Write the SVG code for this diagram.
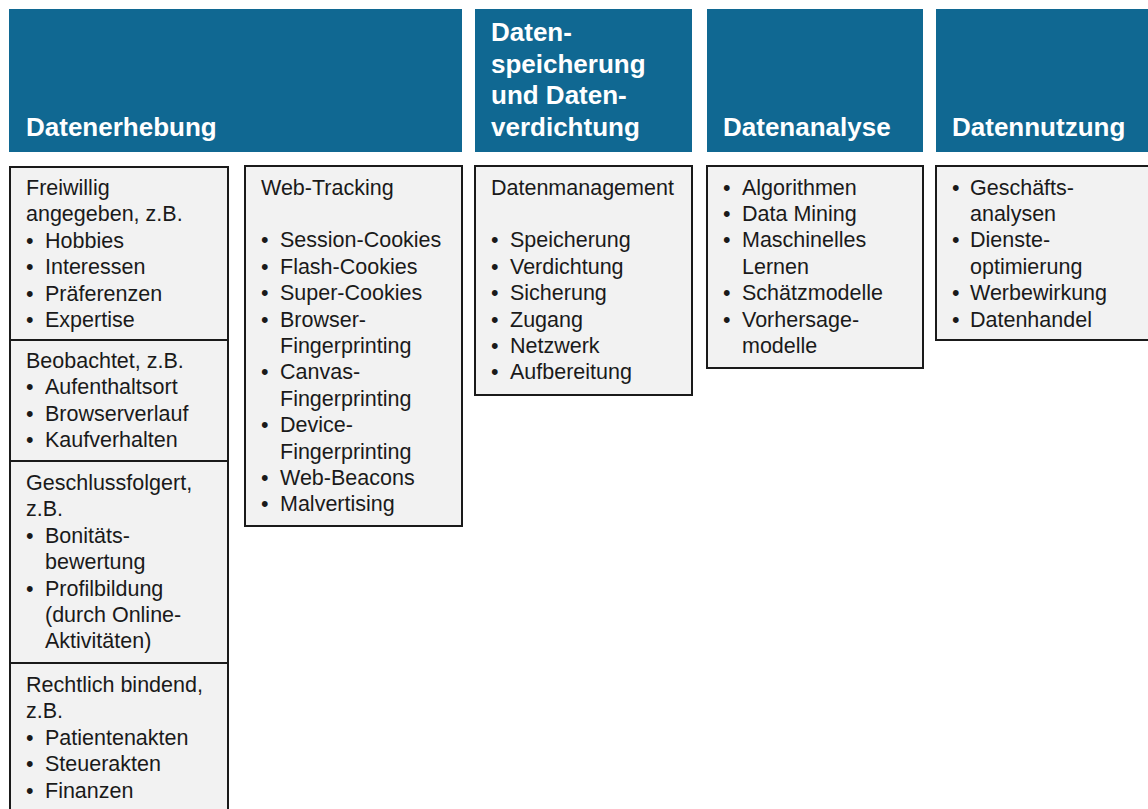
<svg xmlns="http://www.w3.org/2000/svg" width="1148" height="809" viewBox="0 0 1148 809">
<style>
.hdr{fill:#106892}
.hd{font-family:"Liberation Sans",Arial,sans-serif;font-size:26px;font-weight:bold;fill:#ffffff}
.box{fill:#f2f2f2;stroke:#1a1a1a;stroke-width:2}
.t{font-family:"Liberation Sans",Arial,sans-serif;font-size:21.5px;fill:#1a1a1a}
</style>
<rect width="1148" height="809" fill="#ffffff"/>
<g id="header-erhebung">
<rect class="hdr" x="9" y="9" width="453" height="143"/>
<text class="hd" x="26" y="136">Datenerhebung</text>
</g>
<g id="header-speicherung">
<rect class="hdr" x="475" y="9" width="217" height="143"/>
<text class="hd" x="491" y="41">Daten-</text>
<text class="hd" x="491" y="72.5">speicherung</text>
<text class="hd" x="491" y="104">und Daten-</text>
<text class="hd" x="491" y="135.5">verdichtung</text>
</g>
<g id="header-analyse">
<rect class="hdr" x="707" y="9" width="216" height="143"/>
<text class="hd" x="723" y="136">Datenanalyse</text>
</g>
<g id="header-nutzung">
<rect class="hdr" x="936" y="9" width="220" height="143"/>
<text class="hd" x="952" y="136">Datennutzung</text>
</g>
<g id="box-freiwillig">
<rect class="box" x="10" y="167" width="218" height="173"/>
<text class="t" x="26" y="195">Freiwillig</text>
<text class="t" x="26" y="221.4">angegeben, z.B.</text>
<text class="t" x="26" y="247.8">•</text><text class="t" x="45" y="247.8">Hobbies</text>
<text class="t" x="26" y="274.2">•</text><text class="t" x="45" y="274.2">Interessen</text>
<text class="t" x="26" y="300.6">•</text><text class="t" x="45" y="300.6">Präferenzen</text>
<text class="t" x="26" y="327">•</text><text class="t" x="45" y="327">Expertise</text>
</g>
<g id="box-beobachtet">
<rect class="box" x="10" y="340" width="218" height="121"/>
<text class="t" x="26" y="368">Beobachtet, z.B.</text>
<text class="t" x="26" y="394.4">•</text><text class="t" x="45" y="394.4">Aufenthaltsort</text>
<text class="t" x="26" y="420.8">•</text><text class="t" x="45" y="420.8">Browserverlauf</text>
<text class="t" x="26" y="447.2">•</text><text class="t" x="45" y="447.2">Kaufverhalten</text>
</g>
<g id="box-geschlussfolgert">
<rect class="box" x="10" y="461" width="218" height="202"/>
<text class="t" x="26" y="490">Geschlussfolgert,</text>
<text class="t" x="26" y="516.4">z.B.</text>
<text class="t" x="26" y="542.8">•</text><text class="t" x="45" y="542.8">Bonitäts-</text>
<text class="t" x="45" y="569.2">bewertung</text>
<text class="t" x="26" y="595.6">•</text><text class="t" x="45" y="595.6">Profilbildung</text>
<text class="t" x="45" y="622">(durch Online-</text>
<text class="t" x="45" y="648.4">Aktivitäten)</text>
</g>
<g id="box-rechtlich">
<rect class="box" x="10" y="663" width="218" height="160"/>
<text class="t" x="26" y="692">Rechtlich bindend,</text>
<text class="t" x="26" y="718.4">z.B.</text>
<text class="t" x="26" y="744.8">•</text><text class="t" x="45" y="744.8">Patientenakten</text>
<text class="t" x="26" y="771.2">•</text><text class="t" x="45" y="771.2">Steuerakten</text>
<text class="t" x="26" y="797.6">•</text><text class="t" x="45" y="797.6">Finanzen</text>
</g>
<g id="box-webtracking">
<rect class="box" x="245" y="166" width="217" height="360"/>
<text class="t" x="261" y="194.5">Web-Tracking</text>
<text class="t" x="261" y="247.3">•</text><text class="t" x="280" y="247.3">Session-Cookies</text>
<text class="t" x="261" y="273.7">•</text><text class="t" x="280" y="273.7">Flash-Cookies</text>
<text class="t" x="261" y="300.1">•</text><text class="t" x="280" y="300.1">Super-Cookies</text>
<text class="t" x="261" y="326.5">•</text><text class="t" x="280" y="326.5">Browser-</text>
<text class="t" x="280" y="352.9">Fingerprinting</text>
<text class="t" x="261" y="379.3">•</text><text class="t" x="280" y="379.3">Canvas-</text>
<text class="t" x="280" y="405.7">Fingerprinting</text>
<text class="t" x="261" y="432.1">•</text><text class="t" x="280" y="432.1">Device-</text>
<text class="t" x="280" y="458.5">Fingerprinting</text>
<text class="t" x="261" y="484.9">•</text><text class="t" x="280" y="484.9">Web-Beacons</text>
<text class="t" x="261" y="511.3">•</text><text class="t" x="280" y="511.3">Malvertising</text>
</g>
<g id="box-datenmanagement">
<rect class="box" x="475" y="166" width="217" height="229"/>
<text class="t" x="491" y="194.5">Datenmanagement</text>
<text class="t" x="491" y="247.3">•</text><text class="t" x="510" y="247.3">Speicherung</text>
<text class="t" x="491" y="273.7">•</text><text class="t" x="510" y="273.7">Verdichtung</text>
<text class="t" x="491" y="300.1">•</text><text class="t" x="510" y="300.1">Sicherung</text>
<text class="t" x="491" y="326.5">•</text><text class="t" x="510" y="326.5">Zugang</text>
<text class="t" x="491" y="352.9">•</text><text class="t" x="510" y="352.9">Netzwerk</text>
<text class="t" x="491" y="379.3">•</text><text class="t" x="510" y="379.3">Aufbereitung</text>
</g>
<g id="box-analyse">
<rect class="box" x="707" y="166" width="216" height="202"/>
<text class="t" x="723" y="194.5">•</text><text class="t" x="742" y="194.5">Algorithmen</text>
<text class="t" x="723" y="220.9">•</text><text class="t" x="742" y="220.9">Data Mining</text>
<text class="t" x="723" y="247.3">•</text><text class="t" x="742" y="247.3">Maschinelles</text>
<text class="t" x="742" y="273.7">Lernen</text>
<text class="t" x="723" y="300.1">•</text><text class="t" x="742" y="300.1">Schätzmodelle</text>
<text class="t" x="723" y="326.5">•</text><text class="t" x="742" y="326.5">Vorhersage-</text>
<text class="t" x="742" y="352.9">modelle</text>
</g>
<g id="box-nutzung">
<rect class="box" x="936" y="166" width="222" height="174"/>
<text class="t" x="952" y="194.5">•</text><text class="t" x="970" y="194.5">Geschäfts-</text>
<text class="t" x="970" y="220.9">analysen</text>
<text class="t" x="952" y="247.3">•</text><text class="t" x="970" y="247.3">Dienste-</text>
<text class="t" x="970" y="273.7">optimierung</text>
<text class="t" x="952" y="300.1">•</text><text class="t" x="970" y="300.1">Werbewirkung</text>
<text class="t" x="952" y="326.5">•</text><text class="t" x="970" y="326.5">Datenhandel</text>
</g>
<g id="connectors"></g>
</svg>
